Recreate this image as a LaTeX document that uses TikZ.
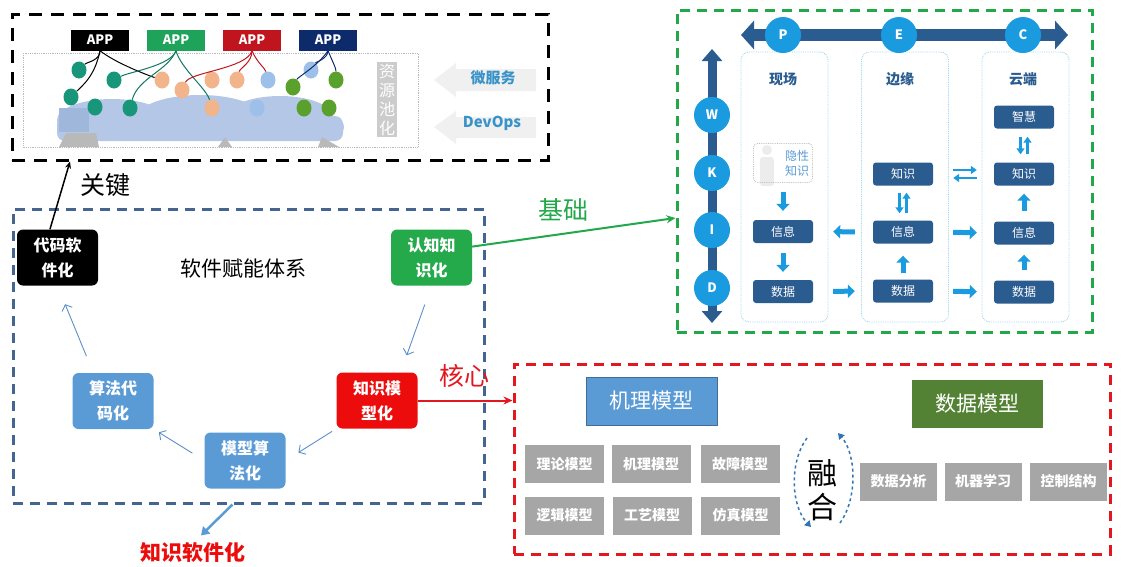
\documentclass[tikz,border=0pt]{standalone}
\usepackage{fontspec}
\setmainfont{Noto Sans CJK SC}
\usepackage{xcolor}
\usepackage{tikz}
\usetikzlibrary{arrows.meta, positioning, shapes.geometric, calc}

\definecolor{navy}{HTML}{2B5C8F}
\definecolor{skyblue}{HTML}{1A9BE0}
\definecolor{boxblue}{HTML}{5B9BD5}
\definecolor{loopblue}{HTML}{5B8FC9}
\definecolor{frameblue}{HTML}{44658F}
\definecolor{framegreen}{HTML}{22A84A}
\definecolor{framered}{HTML}{E3171F}
\definecolor{stagegreen}{HTML}{24A94B}
\definecolor{stagered}{HTML}{EC0C0C}
\definecolor{appgreen}{HTML}{1FA35A}
\definecolor{appred}{HTML}{C0151F}
\definecolor{appnavy}{HTML}{0D2A6B}
\definecolor{dotteal}{HTML}{17967A}
\definecolor{dotorange}{HTML}{F2B48A}
\definecolor{dotblue}{HTML}{9CC0EA}
\definecolor{dotgreen}{HTML}{5AA02C}
\definecolor{cloudblue}{HTML}{B4C7E7}
\definecolor{svcblue}{HTML}{3A93C8}
\definecolor{modelgray}{HTML}{A6A6A6}
\definecolor{datagreen}{HTML}{548235}
\definecolor{mixblue}{HTML}{2E75B6}

\newcommand{\pxfont}[2]{\fontsize{#1}{#2}\selectfont}

\begin{document}
\begin{tikzpicture}[
    x=1pt, y=-1pt,
    dashbox/.style={draw, line width=3pt, dash pattern=on 10pt off 7pt, inner sep=0pt},
    stage/.style={rounded corners=6pt, minimum width=81pt, minimum height=56pt, inner sep=0pt, text=white, align=center, font=\pxfont{16}{25}\bfseries},
    loopedge/.style={-{Straight Barb[length=5pt,width=11pt]}, draw=loopblue, line width=0.9pt},
    app/.style={minimum width=58pt, minimum height=21pt, inner sep=0pt, text=white, font=\pxfont{13}{13}\bfseries},
    dot/.style={ellipse, minimum width=15pt, minimum height=17pt, inner sep=0pt},
    wire/.style={line width=1pt},
    svc/.style={text=svcblue, font=\pxfont{15}{15}\bfseries},
    letter/.style={circle, fill=skyblue, minimum size=36pt, inner sep=0pt, text=white, font=\pxfont{13}{13}\bfseries},
    lane/.style={draw=skyblue!45, densely dotted, thick, rounded corners=8pt, minimum width=87pt, minimum height=270pt, inner sep=0pt},
    lanetitle/.style={text=navy, font=\pxfont{14}{14}\bfseries},
    dikw/.style={fill=navy, rounded corners=3pt, minimum width=60pt, minimum height=23pt, inner sep=0pt, text=white, font=\pxfont{12}{12}},
    flow/.style={draw=skyblue, line width=5pt, -{Triangle[width=13pt,length=7pt]}},
    thinflow/.style={draw=skyblue, line width=2.6pt, -{Triangle[width=8pt,length=6pt]}},
    model/.style={fill=modelgray, minimum width=79pt, minimum height=38pt, inner sep=0pt, text=white, font=\pxfont{14}{14}\bfseries},
    kind/.style={minimum width=131pt, minimum height=48pt, inner sep=0pt, text=white, font=\pxfont{21}{21}},
    tag/.style={font=\pxfont{25}{25}},
    mixarc/.style={dashed, draw=mixblue, line width=1.5pt, -{Triangle[width=7pt,length=6pt]}}
]
\useasboundingbox (0,0) rectangle (1123,566);

% ---------------- cloud platform ----------------
\node[dashbox, draw=black, dash pattern=on 13pt off 9pt, minimum width=536pt, minimum height=146pt] (platform) at (280,87) {};
\draw[gray!55, densely dotted, thick] (23,53) rectangle (418,147);

% cloud body
\fill[cloudblue, rounded corners=8pt] (57,116) rectangle (343,141);
\fill[cloudblue] (112,120) ellipse (55pt and 21pt);
\fill[cloudblue] (200,117) ellipse (62pt and 22pt);
\fill[cloudblue] (280,116) ellipse (52pt and 20pt);
\fill[cloudblue] (318,127) ellipse (26pt and 14pt);
\fill[cloudblue!85!navy] (59,108) rectangle (89,132);
\fill[gray!55] (59,147) -- (66,133) -- (96,133) -- (99,147) -- cycle;
\fill[gray!55] (218,147) -- (225,137) -- (232,147) -- cycle;
\fill[gray!55] (318,147) -- (322,137) -- (339,147) -- cycle;

% apps
\node[app, fill=black] (appk) at (100,40) {APP};
\node[app, fill=appgreen] (appg) at (176,40) {APP};
\node[app, fill=appred] (appr) at (252,40) {APP};
\node[app, fill=appnavy] (appn) at (328,40) {APP};

% services
\foreach \n/\px/\py/\c in {t1/79/70/dotteal, t2/71/97/dotteal, t3/95/107/dotteal, t4/114/80/dotteal, t5/130/108/dotteal,
    o1/162/80/dotorange, o2/182/90/dotorange, o3/212/80/dotorange, o4/237/80/dotorange, o5/212/108/dotorange,
    b1/268/80/dotblue, b2/311/70/dotblue, b3/257/108/dotblue,
    g1/293/87/dotgreen, g2/336/80/dotgreen, g3/304/108/dotgreen, g4/329/108/dotgreen}
  \node[dot, fill=\c] (\n) at (\px,\py) {};

\draw[wire] (appk.south) .. controls +(0,10) and +(8,-8) .. (t1);
\draw[wire] (appk.south) .. controls +(-5,25) and +(12,-12) .. (t2);
\draw[wire] (appk.south) .. controls +(15,12) and +(-15,-5) .. (o1);
\draw[wire, draw=dotteal!80!black] (appg.south) .. controls +(-5,15) and +(15,-8) .. (t4);
\draw[wire, draw=dotteal!80!black] (appg.south) .. controls +(-8,20) and +(8,-30) .. (t5);
\draw[wire, draw=dotteal!80!black] (appg.south) .. controls +(5,18) and +(-6,-20) .. (o5);
\draw[wire, draw=appred] (appr.south) .. controls +(-5,18) and +(8,-18) .. (o2);
\draw[wire, draw=appred] (appr.south) .. controls +(0,12) and +(3,-12) .. (o4);
\draw[wire, draw=appred] (appr.south) .. controls +(5,12) and +(-3,-12) .. (b1);
\draw[wire, draw=appnavy] (appn.south) .. controls +(0,8) and +(5,-8) .. (b2);
\draw[wire, draw=appnavy] (appn.south) .. controls +(-10,15) and +(5,-10) .. (g1);
\draw[wire, draw=appnavy] (appn.south) .. controls +(5,12) and +(0,-12) .. (g2);

\node[fill=gray!40, minimum width=20pt, minimum height=75pt, inner sep=0pt, align=center, text=white, font=\pxfont{16}{19}] (pool) at (387,99.5) {资\\源\\池\\化};

\fill[gray!12] (434,80) -- (456,63) -- (456,69) -- (536,69) -- (536,91) -- (456,91) -- (456,97) -- cycle;
\fill[gray!12] (434,127) -- (456,111) -- (456,117) -- (536,117) -- (536,138) -- (456,138) -- (456,144) -- cycle;
\node[svc] (micro) at (493,78) {微服务};
\node[svc] (devops) at (492,123) {DevOps};

% ---------------- software enabling cycle ----------------
\node[dashbox, draw=frameblue, minimum width=471pt, minimum height=294pt] (enable) at (248.5,356) {};
\node[font=\pxfont{21}{21}] (enabletitle) at (243,268) {软件赋能体系};

\node[stage, fill=black] (code) at (57.5,257.5) {代码软\\件化};
\node[stage, fill=stagegreen] (cogn) at (431.5,257.5) {认知知\\识化};
\node[stage, fill=stagered] (kmod) at (377,400.5) {知识模\\型化};
\node[stage, fill=boxblue] (malg) at (245,460.5) {模型算\\法化};
\node[stage, fill=boxblue] (acode) at (113,401) {算法代\\码化};

\draw[loopedge, shorten <=20pt, shorten >=18pt] (cogn.south) -- (kmod.50);
\draw[loopedge, shorten <=5pt, shorten >=15pt] (kmod.south west) -- (malg.east);
\draw[loopedge, shorten <=14pt, shorten >=6pt] (malg.west) -- (acode.south east);
\draw[loopedge, shorten <=18pt, shorten >=20pt] (acode.125) -- (code.south);

% key link to the platform
\draw[-{Stealth[length=7pt,width=6pt]}, line width=1.5pt] (code.105) -- ([xshift=-210pt]platform.south);
\node[tag] (keylbl) at (105,185) {关键};

\node[font=\pxfont{21}{21}\bfseries, text=stagered] (ksw) at (193,552) {知识软件化};
\draw[-{Triangle[width=10pt,length=8pt]}, draw=boxblue, line width=2.5pt] ([xshift=-16pt]enable.south) -- ([xshift=8pt,yshift=3pt]ksw.north);

% ---------------- DIKW across field / edge / cloud ----------------
\node[dashbox, draw=framegreen, minimum width=415pt, minimum height=322pt] (dikwbox) at (884.5,171) {};
\node[tag, text=framegreen] (baselbl) at (563,210) {基础};
\draw[-{Stealth[length=9pt,width=8pt]}, draw=framegreen, line width=2pt] (cogn.15) -- ([yshift=-47pt]dikwbox.west);

\node[lane] (fieldlane) at (784.5,187) {};
\node[lane] (edgelane) at (905,187) {};
\node[lane] (cloudlane) at (1025.5,187) {};

% P-E-C axis
\coordinate (pecl) at (741,35);
\coordinate (pecr) at (1068,35);
\draw[navy, line width=12pt, {Triangle[width=28pt,length=13pt]}-{Triangle[width=28pt,length=13pt]}] (pecl) -- (pecr);
\foreach \n/\px/\t in {lp/783/P, le/899/E, lc/1023/C}
  \node[letter] (\n) at (\px,35) {\t};

% W-K-I-D axis
\coordinate (wkidtop) at (712,49);
\coordinate (wkidbot) at (712,323);
\draw[navy, line width=9pt, {Triangle[width=20pt,length=12pt]}-{Triangle[width=20pt,length=12pt]}] (wkidtop) -- (wkidbot);
\foreach \n/\py/\t in {lw/115/W, lk/173/K, li/230/I, ld/288/D}
  \node[letter] (\n) at (712,\py) {\t};

\node[lanetitle] (fieldt) at (783,79) {现场};
\node[lanetitle] (edget) at (900,79) {边缘};
\node[lanetitle] (cloudt) at (1023,79) {云端};

% field
\fill[gray!15] (767,150) circle (5pt);
\fill[gray!15, rounded corners=3pt] (760,157) rectangle (774,186);
\node[draw=gray!50, densely dotted, thick, rounded corners=4pt, minimum width=59pt, minimum height=39pt, inner sep=0pt] (tacit) at (783,163) {};
\node[align=center, text=boxblue, font=\pxfont{12}{15}] (tacittxt) at (797,163) {隐性\\知识};
\node[dikw] (finfo) at (783,231.5) {信息};
\node[dikw] (fdata) at (783,291.5) {数据};

% edge
\node[dikw] (eknow) at (903,174) {知识};
\node[dikw] (einfo) at (903,232) {信息};
\node[dikw] (edata) at (903,291) {数据};

% cloud
\node[dikw] (cwis) at (1024,117) {智慧};
\node[dikw] (cknow) at (1024,174) {知识};
\node[dikw] (cinfo) at (1024,233) {信息};
\node[dikw] (cdata) at (1024,292) {数据};

\draw[flow, shorten <=9pt, shorten >=9pt] (tacit.south) -- (finfo.north);
\draw[flow, shorten <=10pt, shorten >=8pt] (finfo.south) -- (fdata.north);
\draw[flow, shorten <=6pt, shorten >=12pt] (edata.north) -- (einfo.south);
\draw[flow, shorten <=18pt, shorten >=20pt] (einfo.west) -- (finfo.east);
\draw[flow, shorten <=20pt, shorten >=18pt] (fdata.east) -- (edata.west);
\draw[flow, shorten <=20pt, shorten >=17pt] (einfo.east) -- (cinfo.west);
\draw[flow, shorten <=20pt, shorten >=17pt] (edata.east) -- (cdata.west);
\draw[flow, shorten <=10pt, shorten >=8pt] (cinfo.north) -- (cknow.south);
\draw[flow, shorten <=10pt, shorten >=10pt] (cdata.north) -- (cinfo.south);

\draw[thinflow, shorten <=7pt, shorten >=7pt] ([xshift=-3.5pt]eknow.south) -- ([xshift=-3.5pt]einfo.north);
\draw[thinflow, shorten <=7pt, shorten >=7pt] ([xshift=3.5pt]einfo.north) -- ([xshift=3.5pt]eknow.south);
\draw[thinflow, shorten <=20pt, shorten >=17pt] ([yshift=4pt]eknow.east) -- ([yshift=4pt]cknow.west);
\draw[thinflow, shorten <=17pt, shorten >=20pt] ([yshift=-4pt]cknow.west) -- ([yshift=-4pt]eknow.east);
\draw[thinflow, shorten <=8pt, shorten >=8pt] ([xshift=-3.5pt]cwis.south) -- ([xshift=-3.5pt]cknow.north);
\draw[thinflow, shorten <=8pt, shorten >=8pt] ([xshift=3.5pt]cknow.north) -- ([xshift=3.5pt]cwis.south);

% ---------------- mechanism + data models ----------------
\node[dashbox, draw=framered, minimum width=596pt, minimum height=190pt] (modelbox) at (812,459) {};
\node[tag, text=framered] (corelbl) at (464,376) {核心};
\draw[-{Stealth[length=9pt,width=8pt]}, draw=framered, line width=2pt] (kmod.east) -- (kmod.east -| modelbox.west);

\node[kind, fill=boxblue, draw=boxblue!70!black, thin] (mech) at (651.5,401) {机理模型};
\node[kind, fill=datagreen] (datam) at (977.5,404) {数据模型};

\node[model] (m1) at (564.5,464) {理论模型};
\node[model] (m2) at (651,464) {机理模型};
\node[model] (m3) at (740,464) {故障模型};
\node[model] (m4) at (564.5,515.5) {逻辑模型};
\node[model] (m5) at (652,515.5) {工艺模型};
\node[model] (m6) at (740.5,515.5) {仿真模型};

\node[model, minimum width=77pt] (d1) at (898.5,481.5) {数据分析};
\node[model, minimum width=77pt] (d2) at (983,481.5) {机器学习};
\node[model, minimum width=77pt] (d3) at (1068.5,481.5) {控制结构};

\node[align=center, font=\pxfont{30}{34}] (fuse) at (822,490) {融\\合};
\draw[mixarc] (807,438) .. controls (790,460) and (790,505) .. (811,527);
\draw[mixarc] (840,523) .. controls (857,500) and (857,455) .. (838,433);

\end{tikzpicture}
\end{document}
